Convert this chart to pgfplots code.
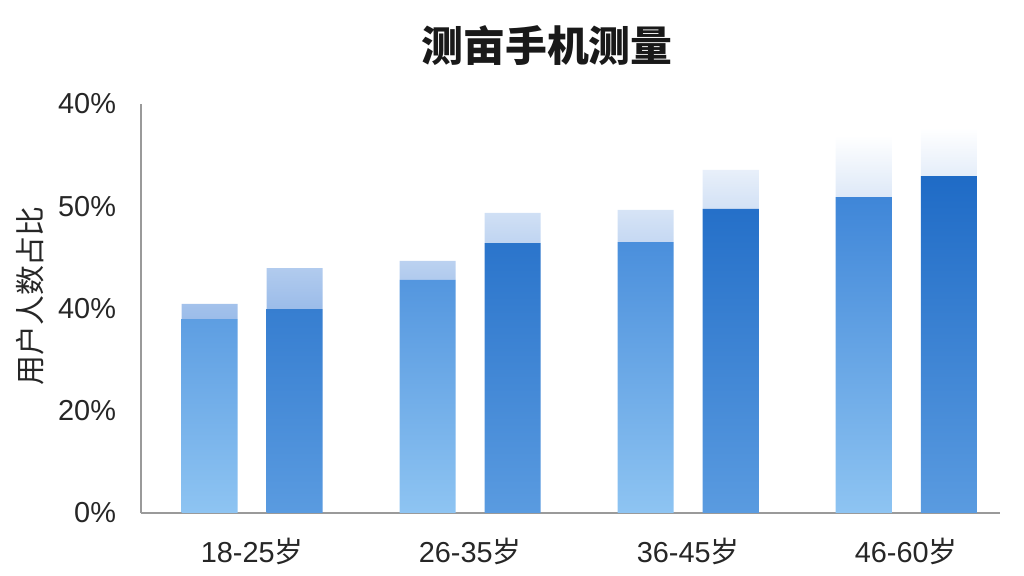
\documentclass[border=0pt]{standalone}
\usepackage{pgfplots}
\pgfplotsset{compat=1.18}
\usepackage{fontspec}
\setmainfont{Liberation Sans}
\newfontfamily\cjk{Noto Sans CJK SC}

\definecolor{axisgray}{HTML}{9A9A9A}
\definecolor{aTop}{HTML}{3F86D8}
\definecolor{aBot}{HTML}{8EC4F2}
\definecolor{bTop}{HTML}{1F6BC6}
\definecolor{bBot}{HTML}{5A9BE0}
\definecolor{capBot}{HTML}{9BBCE9}

% bar heights and the faded caps above them (cap = extra height)
\pgfplotstableread{
x  val  cap
0  37.9 3.0
1  45.6 3.7
2  53.0 6.3
3  61.8 12.1
}\seriesA
\pgfplotstableread{
x  val  cap
0  39.9 8.0
1  52.8 5.9
2  59.5 7.6
3  65.9 9.4
}\seriesB

\pgfplotsset{
  base/.style={
    scale only axis,
    width=429.5bp, height=204.5bp,
    at={(70.5bp,31.5bp)}, anchor=south west,
    xmin=-0.51, xmax=3.43,
    ymin=0, ymax=80,
    ybar stacked,
    bar width=0.257,
  },
}

\begin{document}
\begin{tikzpicture}
\useasboundingbox (0,0) rectangle (512bp,288bp);

\begin{axis}[
  base,
  bar shift=-0.195,
  axis x line*=bottom, axis y line*=left,
  axis line style={axisgray, line width=0.6pt},
  xtick={0,1,2,3},
  xticklabels={18-25{\cjk 岁},26-35{\cjk 岁},36-45{\cjk 岁},46-60{\cjk 岁}},
  ytick={0,20,40,60,80},
  yticklabels={0\%,20\%,40\%,50\%,40\%},
  major tick length=0pt,
  tick label style={font=\fontsize{14.5}{16}\selectfont, text=black!85},
  xticklabel style={yshift=-9bp},
  yticklabel style={xshift=-9bp},
  /pgf/number format/assume math mode=true,
]
\addplot[draw=none, bottom color=aBot, top color=aTop] table[x=x, y=val] {\seriesA};
\addplot[draw=none, bottom color=capBot, top color=white] table[x=x, y=cap] {\seriesA};
\end{axis}

\begin{axis}[
  base,
  bar shift=0.195,
  hide axis,
]
\addplot[draw=none, bottom color=bBot, top color=bTop] table[x=x, y=val] {\seriesB};
\addplot[draw=none, bottom color=capBot, top color=white] table[x=x, y=cap] {\seriesB};
\end{axis}

\node[font={\cjk\bfseries\fontsize{21}{24}\selectfont}, text=black!90] at (273.5bp,265bp) {测亩手机测量};
\node[font={\cjk\fontsize{15}{17}\selectfont}, text=black!85, rotate=90] at (15bp,140bp) {用户人数占比};
\end{tikzpicture}
\end{document}
